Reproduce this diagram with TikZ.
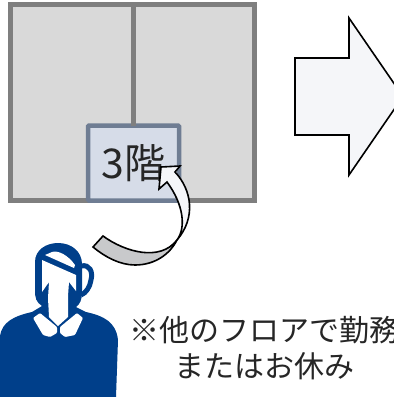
\documentclass[tikz,border=0pt]{standalone}
\usepackage{fontspec}
\setmainfont{Noto Sans CJK JP}
\definecolor{floorgray}{HTML}{D9D9D9}
\definecolor{floorline}{HTML}{7F7F7F}
\definecolor{roomfill}{HTML}{D6DCE8}
\definecolor{roomline}{HTML}{6F7D93}
\definecolor{paleblue}{HTML}{F5F6F9}
\definecolor{foldgray}{HTML}{C8C9CB}
\definecolor{staffblue}{HTML}{003F8A}
\tikzset{
    floorbox/.style={draw=floorline,fill=floorgray,line width=5pt,minimum width=243.5pt,minimum height=196.5pt,outer sep=0pt},
    roombox/.style={draw=roomline,fill=roomfill,line width=4.5pt,rounded corners=1pt,minimum width=91pt,minimum height=75pt,outer sep=0pt,
        font=\fontsize{41}{41}\selectfont,text=black!85},
    blockline/.style={draw=black,line width=1.6pt,line join=miter},
    staff/.style={fill=staffblue,draw=none},
    notelabel/.style={align=center,font=\fontsize{30}{36}\selectfont,text=black!85,inner sep=0pt}
}
\begin{document}
\begin{tikzpicture}[x=1pt,y=-1pt]
        \useasboundingbox (0,0) rectangle (394,397);
        \clip (0,0) rectangle (394,397);
        \node[floorbox] (floor) at (132.25,102.25) {};
        \node[roombox] (room) at (133.5,163) {3階};
        \draw[floorline,line width=5pt] (floor.north -| room.north) -- (room.north);
        \draw[blockline,fill=paleblue] (295,58) -- (349,58) -- (349,18) -- (403,96.5) -- (349,175) -- (349,135) -- (295,135) -- cycle;
        \draw[blockline,fill=foldgray] (103,236) .. controls (125,252) and (160,262) .. (177,240)
            .. controls (170,254) and (155,265) .. (135,265) .. controls (120,265) and (105,257) .. (93,247) -- cycle;
        \draw[blockline,fill=paleblue] (177,240) .. controls (186,228) and (184,205) .. (167,182) -- (159,189) -- (161,167) -- (180,166) -- (175,172)
            .. controls (192,190) and (196,218) .. (177,240) -- cycle;
        \fill[staff] (0,397) -- (0,336) .. controls (2,322) and (14,316) .. (32,312) -- (42,306) .. controls (36,302) and (35,298) .. (35,290)
            -- (35,262) .. controls (35,250) and (46,243) .. (58,243) .. controls (72,243) and (82,252) .. (82,264) -- (82,292)
            .. controls (82,300) and (80,304) .. (76,307) -- (86,312) .. controls (104,316) and (116,322) .. (118,340)
            -- (116,397) -- cycle;
        \draw[staffblue,line width=5pt] (81,266) .. controls (90,264) and (93,272) .. (91,280) .. controls (90,287) and (86,293) .. (81,295);
        \fill[white] (45,255) -- (52,252) .. controls (58,250) and (68,255) .. (75,265) -- (74,268) -- cycle;
        \fill[white] (42,260) -- (76,275) -- (76,291) -- (69,282) -- (68,296) -- (68,317) -- (58,326) -- (49,317) -- (48,298) -- (49,282) -- (42,292) -- cycle;
        \fill[white,rounded corners=1pt] (40,313) -- (57,327) -- (57,333) -- (50,337) -- (43,335) -- (33,318) -- cycle;
        \fill[white,rounded corners=1pt] (77,313) -- (60,327) -- (60,333) -- (65,337) -- (75,335) -- (83,318) -- cycle;
        \node[notelabel] (note) at (264.5,348) {※他のフロアで勤務\\またはお休み};
    \end{tikzpicture}
\end{document}
